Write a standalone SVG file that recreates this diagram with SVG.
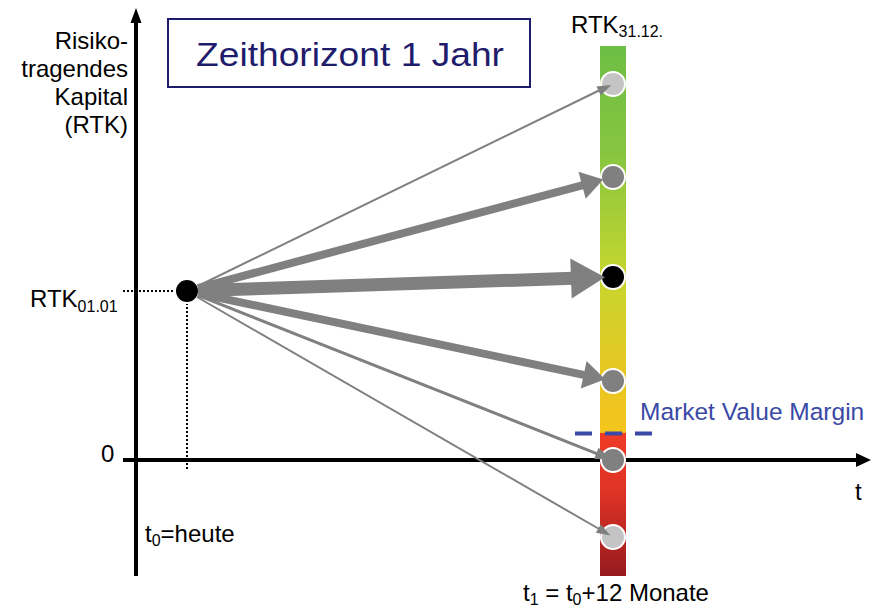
<svg xmlns="http://www.w3.org/2000/svg" width="875" height="609" viewBox="0 0 875 609">
<defs>
<style>
text{font-family:"Liberation Sans",Arial,sans-serif;fill:#000}
.lbl{font-size:24px}
.sub{font-size:16px}
.axis{stroke:#000;stroke-width:4;fill:none}
.dot{stroke:#000;stroke-width:2;stroke-dasharray:2 2;fill:none}
.conn{stroke:#808080;fill:none}
.head{fill:#808080}
.pt{stroke:#fff;stroke-width:2}
.light{fill:#c4c4c4}
.mid{fill:#808080}
.dark{fill:#000}
</style>
<linearGradient id="bar" x1="0" y1="46" x2="0" y2="576" gradientUnits="userSpaceOnUse">
<stop offset="0" stop-color="#6dbe45"/>
<stop offset="0.2" stop-color="#86c540"/>
<stop offset="0.436" stop-color="#c6d62e"/>
<stop offset="0.63" stop-color="#ebc522"/>
<stop offset="0.729" stop-color="#f4c61d"/>
<stop offset="0.731" stop-color="#ef3b26"/>
<stop offset="0.85" stop-color="#dc3226"/>
<stop offset="1" stop-color="#961a1e"/>
</linearGradient>
</defs>
<rect width="875" height="609" fill="#fff"/>

<g id="title">
<rect x="168" y="19" width="362" height="68" fill="#fff" stroke="#1f1d6b" stroke-width="2"/>
<text x="350" y="66" text-anchor="middle" style="font-size:34px;fill:#1f1d6b" textLength="308" lengthAdjust="spacingAndGlyphs">Zeithorizont 1 Jahr</text>
</g>

<g id="axes">
<line class="axis" x1="136" y1="22" x2="136" y2="576"/>
<polygon points="136,8 130.5,23 141.5,23" fill="#000"/>
<line class="axis" x1="123" y1="460" x2="858" y2="460"/>
<polygon points="871,460 856,453 856,467" fill="#000"/>
<line class="dot" x1="123" y1="291" x2="175" y2="291"/>
<line class="dot" x1="187" y1="303" x2="187" y2="471"/>
</g>

<g id="labels">
<text class="lbl" x="128" y="49" text-anchor="end">Risiko-</text>
<text class="lbl" x="128" y="77" text-anchor="end">tragendes</text>
<text class="lbl" x="128" y="105" text-anchor="end">Kapital</text>
<text class="lbl" x="128" y="133" text-anchor="end">(RTK)</text>
<text class="lbl" x="30" y="307">RTK<tspan class="sub" dy="5">01.01</tspan></text>
<text class="lbl" x="101" y="462">0</text>
<text class="lbl" x="145" y="542">t<tspan class="sub" dy="4">0</tspan><tspan dy="-4">=heute</tspan></text>
<text class="lbl" x="855" y="500">t</text>
<text class="lbl" x="523" y="601">t<tspan class="sub" dy="4">1</tspan><tspan dy="-4"> = t</tspan><tspan class="sub" dy="4">0</tspan><tspan dy="-4">+12 Monate</tspan></text>
<text class="lbl" x="571" y="33">RTK<tspan class="sub" dy="4">31.12.</tspan></text>
<text x="640" y="420" style="font-size:24.5px;fill:#3a49a6">Market Value Margin</text>
</g>

<g id="bar-rtk3112">
<rect x="600" y="46" width="26" height="530" fill="url(#bar)"/>
</g>

<g id="mvm-line">
<line x1="575" y1="433.5" x2="653" y2="433.5" stroke="#3a49a6" stroke-width="4" stroke-dasharray="17 13"/>
</g>

<g id="source">
<circle class="pt dark" cx="187" cy="291" r="12"/>
</g>

<g id="outcome-1"><circle class="pt light" cx="613" cy="84" r="12"/></g>
<g id="outcome-2"><circle class="pt mid" cx="613" cy="177" r="12"/></g>
<g id="outcome-3"><circle class="pt dark" cx="613" cy="277" r="12"/></g>
<g id="outcome-4"><circle class="pt mid" cx="613" cy="381" r="12"/></g>
<g id="outcome-5"><circle class="pt mid" cx="613" cy="460" r="12"/></g>
<g id="outcome-6"><circle class="pt light" cx="613" cy="537" r="12"/></g>

<g id="connectors">
<line class="conn" x1="198" y1="286" x2="600" y2="90" stroke-width="2"/>
<polygon class="head" points="611.2,84.9 600.8,95.5 596.4,86.5"/>
<line class="conn" x1="198" y1="288" x2="584" y2="184.8" stroke-width="8"/>
<polygon class="head" points="603.3,179.6 585.7,198.8 578.5,171.8"/>
<line class="conn" x1="198" y1="290.6" x2="573" y2="278.3" stroke-width="13"/>
<polygon class="head" points="605,277.3 571.7,298.4 570.3,258.4"/>
<line class="conn" x1="198" y1="293.3" x2="586" y2="375.3" stroke-width="8"/>
<polygon class="head" points="605.2,379.3 580.8,388.5 586.6,361.1"/>
<line class="conn" x1="198" y1="295.4" x2="598" y2="454.1" stroke-width="3"/>
<polygon class="head" points="611.1,459.3 594.1,459 598.5,447.8"/>
<line class="conn" x1="197" y1="297" x2="600" y2="529.5" stroke-width="2"/>
<polygon class="head" points="610.4,535.5 595.8,532.8 600.8,524.2"/>
</g>
</svg>
